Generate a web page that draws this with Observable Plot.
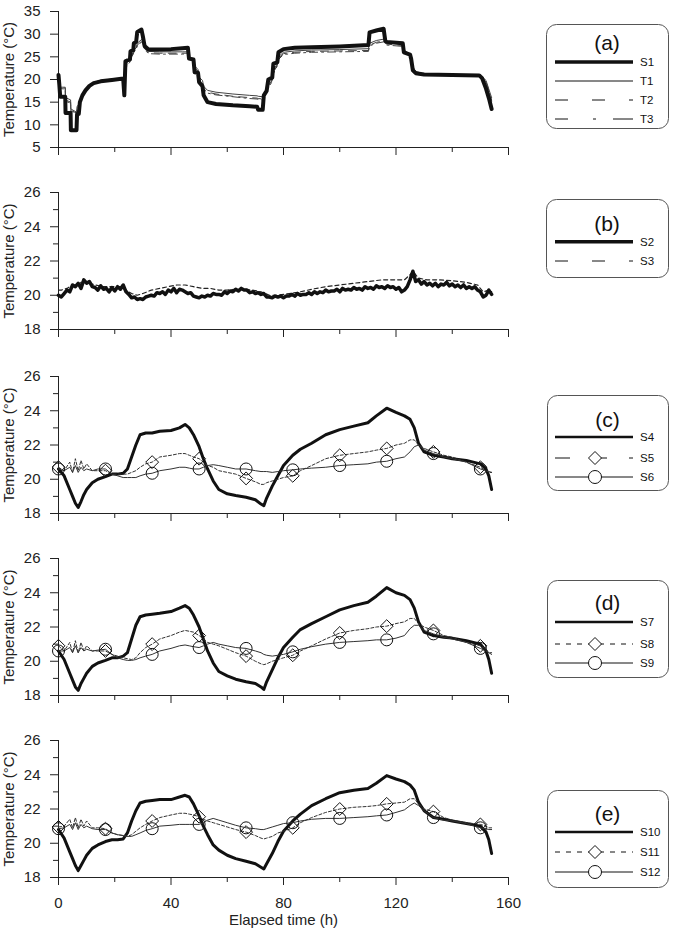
<!DOCTYPE html>
<html>
<head>
<meta charset="utf-8">
<script src="https://cdn.jsdelivr.net/npm/d3@7"></script>
<script src="https://cdn.jsdelivr.net/npm/@observablehq/plot@0.6"></script>
<style>
  body { margin: 0; background: #fff; }
  #fig { position: relative; width: 675px; height: 944px; font-family: "Liberation Sans", Arial, sans-serif; }
  #fig > svg { position: absolute; left: 0; }
</style>
</head>
<body>
<div id="fig"></div>
<script>
// ---------- Panel (a): surface and air temperatures ----------
const hoursA = [
  0, 0.3, 0.6, 2.4, 2.5, 4.3, 4.4, 6.4, 6.6, 7.2,
  7.6, 8.5, 9.6, 11, 12.5, 15, 19, 23, 23.4, 23.8,
  24.4, 25.4, 25.6, 26.6, 26.8, 27.6, 28, 29.5, 30, 30.6,
  32, 36, 40, 44, 46, 46.4, 48, 48.4, 49.6, 50,
  51.2, 51.6, 53, 56, 62, 68, 70.6, 71, 72.6, 73,
  74, 74.6, 76, 76.4, 77.8, 78.2, 80, 84, 90, 100,
  110.2, 110.6, 113, 115.6, 116.2, 116.6, 122.4, 122.8, 125, 125.4,
  126, 127, 130, 140, 149.6, 150.6, 152, 153.2, 154
];
const S1 = [
  21.0, 18.8, 16.2, 16.2, 12.6, 12.6, 8.8, 8.8, 12.4, 12.4,
  15.0, 16.5, 17.6, 18.6, 19.2, 19.6, 19.9, 20.2, 16.5, 24.0,
  24.2, 24.4, 26.2, 26.5, 28.0, 28.3, 30.5, 31.0, 29.5, 27.4,
  26.6, 26.6, 26.7, 26.9, 27.0, 24.6, 24.4, 21.6, 21.5, 19.4,
  18.5, 16.5, 15.0, 14.6, 14.3, 14.1, 14.0, 13.3, 13.3, 16.5,
  17.5, 20.0, 20.4, 23.5, 23.8, 26.0, 26.7, 27.0, 27.1, 27.3,
  27.6, 30.4, 30.8, 31.2, 28.5, 28.3, 28.0, 26.0, 25.5, 24.5,
  22.0, 21.4, 21.1, 21.0, 20.9, 20.3, 18.0, 15.5, 13.5
];
const T1 = [
  20.5, 18.5, 18.3, 18.3, 16.0, 15.5, 13.5, 12.8, 14.0, 14.5,
  15.5, 16.8, 17.8, 18.8, 19.4, 19.8, 20.1, 20.3, 20.0, 22.5,
  23.8, 24.2, 25.0, 26.0, 26.5, 27.0, 28.0, 28.8, 28.6, 27.0,
  26.2, 26.1, 26.1, 26.1, 26.1, 25.0, 24.6, 23.0, 22.2, 20.5,
  19.8, 18.5, 17.6, 17.2, 16.8, 16.5, 16.4, 16.3, 16.2, 16.6,
  17.8, 18.6, 20.0, 22.0, 23.5, 25.0, 26.0, 26.3, 26.5, 26.6,
  26.8, 28.0, 28.6, 28.9, 28.5, 28.0, 27.8, 26.5, 25.6, 24.8,
  22.8, 21.8, 21.2, 21.0, 20.9, 20.6, 19.8, 17.5, 16.0
];
const T2 = [
  20.4, 18.4, 18.2, 18.1, 15.5, 15.0, 13.2, 12.6, 13.5, 14.2,
  15.2, 16.6, 17.7, 18.7, 19.3, 19.7, 20.0, 20.2, 19.5, 22.0,
  23.5, 24.0, 24.8, 25.8, 26.2, 26.8, 27.6, 28.4, 28.2, 26.8,
  25.9, 25.8, 25.8, 25.8, 25.8, 24.8, 24.4, 22.8, 22.0, 20.2,
  19.4, 18.0, 17.2, 16.8, 16.3, 16.0, 15.9, 15.8, 15.7, 16.2,
  17.5, 18.3, 19.8, 21.5, 23.2, 24.6, 25.7, 26.0, 26.2, 26.3,
  26.4, 27.6, 28.2, 28.5, 28.2, 27.8, 27.5, 26.3, 25.4, 24.6,
  22.6, 21.6, 21.1, 21.0, 20.8, 20.5, 19.6, 17.2, 15.5
];
const T3 = [
  20.3, 18.3, 18.0, 17.9, 15.2, 14.8, 13.0, 12.5, 13.3, 14.0,
  15.0, 16.4, 17.5, 18.6, 19.2, 19.6, 19.9, 20.1, 19.3, 21.8,
  23.3, 23.8, 24.6, 25.6, 26.0, 26.6, 27.4, 28.2, 28.0, 26.6,
  25.7, 25.6, 25.6, 25.6, 25.6, 24.6, 24.2, 22.6, 21.8, 20.0,
  19.2, 17.8, 17.0, 16.6, 16.2, 15.8, 15.7, 15.6, 15.5, 16.0,
  17.3, 18.1, 19.6, 21.3, 23.0, 24.4, 25.5, 25.8, 26.0, 26.1,
  26.2, 27.4, 28.0, 28.3, 28.0, 27.6, 27.3, 26.1, 25.3, 24.5,
  22.4, 21.5, 21.0, 20.9, 20.8, 20.4, 19.4, 17.0, 15.2
];

// ---------- Panel (b) ----------
// S2 is logged hourly (0 h … 154 h)
const hoursS2 = d3.range(0, 155);
const S2 = [
  20.0, 19.9, 20.1, 20.3, 20.2, 20.6, 20.5, 20.7, 20.4, 20.9,
  20.7, 20.8, 20.5, 20.45, 20.3, 20.55, 20.35, 20.4, 20.2, 20.45,
  20.25, 20.5, 20.35, 20.6, 20.2, 20.05, 19.85, 19.9, 19.75, 19.8,
  19.75, 19.9, 19.95, 20.0, 19.95, 20.15, 20.1, 20.2, 20.05, 20.3,
  20.2, 20.4, 20.15, 20.35, 20.3, 20.2, 20.1, 20.15, 19.95, 19.9,
  19.85, 19.95, 19.9, 20.0, 19.95, 20.1, 20.05, 20.05, 20.0, 20.2,
  20.1, 20.25, 20.2, 20.35, 20.25, 20.4, 20.3, 20.3, 20.15, 20.2,
  20.1, 20.15, 20.05, 20.1, 19.9, 19.9, 19.85, 19.95, 19.9, 19.95,
  19.85, 19.95, 19.95, 20.05, 19.95, 20.1, 20.0, 20.05, 20.05, 20.15,
  20.05, 20.2, 20.1, 20.2, 20.15, 20.3, 20.2, 20.25, 20.25, 20.35,
  20.2, 20.4, 20.3, 20.35, 20.3, 20.45, 20.35, 20.4, 20.3, 20.5,
  20.4, 20.45, 20.35, 20.55, 20.45, 20.5, 20.4, 20.55, 20.45, 20.5,
  20.35, 20.45, 20.2, 20.3, 20.5, 20.9, 21.4, 20.8, 20.9, 20.65,
  20.8, 20.6, 20.7, 20.55, 20.7, 20.5, 20.65, 20.6, 20.75, 20.55,
  20.65, 20.5, 20.6, 20.45, 20.6, 20.4, 20.5, 20.4, 20.5, 20.3,
  20.2, 19.9, 20.0, 20.3, 20.05
];
const hoursS3 = [
  0, 1, 3, 5, 7, 9, 11, 13, 16, 19,
  22, 24, 26, 28, 30, 33, 36, 39, 42, 45,
  48, 51, 54, 57, 60, 63, 66, 69, 72, 75,
  78, 82, 86, 90, 95, 100, 105, 110, 115, 120,
  123, 125, 126, 128, 131, 135, 140, 145, 149, 151,
  153, 154
];
const S3 = [
  20.3, 20.3, 20.4, 20.6, 20.6, 20.9, 20.7, 20.6, 20.5, 20.5,
  20.5, 20.3, 20.1, 20.0, 20.1, 20.3, 20.4, 20.5, 20.6, 20.6,
  20.5, 20.4, 20.4, 20.3, 20.3, 20.35, 20.35, 20.3, 20.2, 20.0,
  20.0, 20.1, 20.2, 20.35, 20.5, 20.6, 20.7, 20.8, 20.9, 20.9,
  20.9, 21.2, 21.4, 21.0, 20.9, 20.9, 20.85, 20.75, 20.6, 20.2,
  20.3, 20.2
];

// ---------- Panels (c), (d), (e): shared sampling hours ----------
const hoursCDE = [
  0, 2, 4, 5, 6, 7, 8, 9, 10, 12,
  14, 16.7, 19, 21, 23, 24.5, 26, 27.5, 29, 31,
  33.3, 36, 40, 43, 45, 46.5, 48, 50, 51.5, 53,
  55, 57, 60, 63, 66.7, 70, 72, 73, 74, 76,
  78, 80, 83.3, 86, 90, 95, 100, 105, 110, 113,
  116.7, 120, 123, 125, 126.5, 128, 130, 133.3, 137, 140,
  145, 150, 152, 153, 154
];
// hours at which symbols are drawn on the marked series
const markerHours = [0, 16.7, 33.3, 50, 66.7, 83.3, 100, 116.7, 133.3, 150];

const S4 = [
  20.6, 20.2, 19.4, 19.0, 18.6, 18.35, 18.7, 19.1, 19.4, 19.8,
  20.0, 20.15, 20.3, 20.3, 20.35, 20.6, 21.3, 22.0, 22.6, 22.7,
  22.7, 22.8, 22.85, 23.0, 23.2, 23.0, 22.6, 21.9, 21.2, 20.6,
  19.9, 19.4, 19.15, 19.05, 18.95, 18.8, 18.55, 18.45, 18.9, 19.6,
  20.2, 20.8, 21.4, 21.75, 22.1, 22.6, 22.9, 23.1, 23.3, 23.7,
  24.15, 23.9, 23.7, 23.5, 23.0, 22.1, 21.6, 21.4, 21.3, 21.2,
  21.1, 20.9, 20.6, 20.2, 19.4
];
const S5 = [
  20.7, 20.5, 21.0, 20.4, 21.2, 20.5, 21.1, 20.6, 20.9, 20.5,
  20.5, 20.5, 20.3, 20.3, 20.3, 20.3, 20.4, 20.5, 20.7, 20.9,
  21.0, 21.3, 21.4, 21.5, 21.5, 21.4, 21.3, 21.2, 21.0, 20.8,
  20.7, 20.5, 20.4, 20.3, 20.05, 19.85, 19.7, 19.7, 19.8, 19.9,
  20.0, 20.1, 20.2, 20.5, 20.8, 21.2, 21.4, 21.5, 21.6, 21.7,
  21.8, 22.0, 22.1, 22.3, 22.3, 22.0, 21.8, 21.6, 21.4, 21.3,
  21.0, 20.7, 20.5, 20.4, 20.4
];
const S6 = [
  20.6, 20.5, 20.7, 20.4, 20.8, 20.4, 20.7, 20.5, 20.6, 20.5,
  20.6, 20.6, 20.3, 20.2, 20.1, 20.1, 20.1, 20.1, 20.2, 20.3,
  20.35, 20.5, 20.6, 20.7, 20.7, 20.65, 20.6, 20.6, 20.7, 20.8,
  20.85, 20.8, 20.7, 20.6, 20.6, 20.5, 20.45, 20.45, 20.45, 20.4,
  20.45, 20.5, 20.55, 20.6, 20.65, 20.7, 20.8, 20.85, 20.9, 21.0,
  21.05, 21.2, 21.3, 21.6, 21.9, 22.0, 21.7, 21.5, 21.3, 21.2,
  21.0, 20.6, 20.5, 20.45, 20.4
];
const S7 = [
  20.6, 20.1, 19.3, 18.9, 18.5, 18.3, 18.7, 19.0, 19.3, 19.7,
  19.9, 20.05, 20.2, 20.2, 20.3, 20.5, 21.3, 22.1, 22.6, 22.7,
  22.75, 22.8, 22.9, 23.1, 23.25, 23.1, 22.7, 22.0, 21.3, 20.6,
  19.9, 19.4, 19.15, 18.95, 18.8, 18.7, 18.5, 18.35, 18.8, 19.5,
  20.2, 20.8, 21.4, 21.85, 22.2, 22.6, 23.0, 23.25, 23.45, 23.8,
  24.3, 24.0, 23.85, 23.6, 23.1, 22.3, 21.7, 21.5, 21.4, 21.35,
  21.2, 21.0, 20.6, 20.1, 19.3
];
const S8 = [
  20.9, 20.6, 21.1, 20.5, 21.2, 20.5, 21.1, 20.6, 20.9, 20.6,
  20.6, 20.6, 20.4, 20.3, 20.2, 20.15, 20.1, 20.2, 20.5, 20.8,
  21.0, 21.3, 21.5, 21.7, 21.8, 21.75, 21.7, 21.5, 21.3, 21.1,
  21.0, 20.9, 20.7, 20.5, 20.3, 20.0, 19.85, 19.8, 19.85, 20.0,
  20.1, 20.2, 20.35, 20.6, 20.9, 21.3, 21.65, 21.8, 21.9, 22.0,
  22.05, 22.2, 22.3, 22.5, 22.5, 22.2, 22.0, 21.8, 21.5, 21.4,
  21.1, 20.9, 20.7, 20.5, 20.5
];
const S9 = [
  20.6, 20.6, 20.8, 20.5, 20.9, 20.5, 20.8, 20.6, 20.7, 20.6,
  20.65, 20.7, 20.4, 20.2, 20.1, 20.05, 20.05, 20.1, 20.2, 20.3,
  20.4, 20.6, 20.75, 20.9, 20.95, 20.9, 20.85, 20.8, 20.9, 21.0,
  21.1, 21.0, 20.9, 20.8, 20.75, 20.6, 20.5, 20.4, 20.35, 20.3,
  20.35, 20.4, 20.55, 20.7, 20.85, 21.0, 21.1, 21.15, 21.2, 21.25,
  21.25, 21.35, 21.5, 21.9, 22.1, 22.1, 21.8, 21.6, 21.4, 21.3,
  21.1, 20.75, 20.6, 20.5, 20.4
];
const S10 = [
  20.8, 20.3, 19.5, 19.1, 18.7, 18.4, 18.7, 19.0, 19.3, 19.7,
  19.9, 20.1, 20.2, 20.2, 20.25, 20.6, 21.3, 21.9, 22.35, 22.45,
  22.5, 22.55, 22.55, 22.7, 22.8, 22.7, 22.3, 21.6, 21.0, 20.5,
  19.9, 19.6, 19.3, 19.1, 18.95, 18.8, 18.6, 18.5, 18.8, 19.4,
  20.1, 20.7, 21.3, 21.7, 22.2, 22.6, 22.95, 23.1, 23.2, 23.5,
  23.95, 23.75, 23.6, 23.4, 23.1, 22.4, 21.9, 21.5, 21.4, 21.3,
  21.15, 21.0, 20.65, 20.2, 19.4
];
const S11 = [
  20.95, 21.0, 21.4, 20.9, 21.5, 20.9, 21.4, 21.0, 21.3, 20.9,
  20.9, 20.85, 20.6, 20.5, 20.45, 20.4, 20.5, 20.7, 20.9, 21.1,
  21.3, 21.5, 21.65, 21.75, 21.75, 21.7, 21.65, 21.55, 21.4, 21.3,
  21.2, 21.1, 20.95, 20.8, 20.65, 20.45, 20.3, 20.25, 20.3, 20.4,
  20.6, 20.7, 20.9, 21.2, 21.5, 21.8, 22.0, 22.1, 22.15, 22.2,
  22.3, 22.35, 22.4, 22.6, 22.6, 22.3, 22.0, 21.85, 21.5, 21.35,
  21.2, 21.1, 21.0, 20.9, 20.9
];
const S12 = [
  20.85, 20.9, 21.1, 20.8, 21.2, 20.8, 21.1, 20.9, 21.0, 20.85,
  20.8, 20.8, 20.6, 20.5, 20.45, 20.4, 20.4, 20.5, 20.6, 20.75,
  20.85, 21.0, 21.05, 21.1, 21.1, 21.1, 21.1, 21.1, 21.2, 21.35,
  21.45, 21.35, 21.2, 21.05, 20.9, 20.85, 20.8, 20.8, 20.85, 20.95,
  21.05, 21.15, 21.2, 21.3, 21.4, 21.45, 21.45, 21.5, 21.55, 21.6,
  21.65, 21.8, 21.95, 22.2, 22.35, 22.2, 21.9, 21.5, 21.35, 21.3,
  21.15, 20.9, 20.85, 20.8, 20.8
];

// ---------- axis ticks and labels ----------
const xMajor = [0, 40, 80, 120, 160];
const xMinor = [20, 60, 100, 140];
const yMajorA = [5, 10, 15, 20, 25, 30, 35];
const yMajor = [18, 20, 22, 24, 26];
const yMinor = [19, 21, 23, 25];
const yLabel = "Temperature (°C)";
const xLabel = "Elapsed time (h)";

// ---------- helpers ----------
const rows = (hours, values) => hours.map((h, i) => ({h, v: values[i]})).filter(d => d.v != null);
const font = `"Liberation Sans", Arial, sans-serif`;
const fig = document.getElementById("fig");

function panel({top, rangeH, domain, major, minor, series, bottom}) {
  const mT = 10, mB = bottom ? 60 : 12;
  const marks = [
    Plot.axisY(major, {tickSize: 8, tickPadding: 10, label: null, fontSize: 15}),
    Plot.axisX(xMajor, {tickSize: 8, tickPadding: 12, label: null, fontSize: 15,
      tickFormat: bottom ? (d => String(d)) : (() => "")}),
    Plot.axisX(xMinor, {tickSize: 5, label: null, tickFormat: () => ""}),
    Plot.ruleX([0], {stroke: "#222"}),
    Plot.ruleY([domain[0]], {stroke: "#222"}),
    Plot.text([yLabel], {frameAnchor: "left", dx: -49, rotate: -90, textAnchor: "middle",
      lineAnchor: "middle", fontSize: 15, fill: "#222"})
  ];
  if (minor) marks.push(Plot.axisY(minor, {tickSize: 5, label: null, tickFormat: () => ""}));
  for (const s of series) {
    const data = rows(s.hours, s.values);
    marks.push(Plot.line(data, {x: "h", y: "v", stroke: s.color || "#111",
      strokeWidth: s.width, strokeDasharray: s.dash, strokeLinejoin: "round"}));
    if (s.symbol) {
      marks.push(Plot.dot(data.filter(d => markerHours.includes(d.h)), {
        x: "h", y: "v", symbol: s.symbol, r: s.symbol === "circle" ? 6 : 5.8,
        stroke: "#111", strokeWidth: 1, fill: "none"}));
    }
  }
  if (bottom) marks.push(Plot.text([xLabel], {frameAnchor: "bottom", dy: 37, textAnchor: "middle",
    lineAnchor: "top", fontSize: 15, fill: "#222"}));
  const svg = Plot.plot({
    width: 520, height: mT + rangeH + mB,
    marginLeft: 58, marginRight: 12, marginTop: mT, marginBottom: mB,
    style: {fontFamily: font, fontSize: "15px", color: "#222", background: "transparent", overflow: "visible"},
    x: {domain: [0, 160]},
    y: {domain},
    marks
  });
  svg.style.top = (top - mT) + "px";
  fig.appendChild(svg);
}

panel({top: 11, rangeH: 136, domain: [5, 35], major: yMajorA, series: [
  {hours: hoursA, values: T3, width: 1, dash: "8,4,2,4", color: "#444"},
  {hours: hoursA, values: T2, width: 1, dash: "8,6", color: "#444"},
  {hours: hoursA, values: T1, width: 1, color: "#444"},
  {hours: hoursA, values: S1, width: 4}
]});
panel({top: 192, rangeH: 137, domain: [18, 26], major: yMajor, minor: yMinor, series: [
  {hours: hoursS3, values: S3, width: 1.2, dash: "4,3", color: "#222"},
  {hours: hoursS2, values: S2, width: 3.5}
]});
panel({top: 376, rangeH: 137, domain: [18, 26], major: yMajor, minor: yMinor, series: [
  {hours: hoursCDE, values: S4, width: 3},
  {hours: hoursCDE, values: S5, width: 1, dash: "3,2", color: "#333", symbol: "diamond2"},
  {hours: hoursCDE, values: S6, width: 1, color: "#333", symbol: "circle"}
]});
panel({top: 558, rangeH: 137, domain: [18, 26], major: yMajor, minor: yMinor, series: [
  {hours: hoursCDE, values: S7, width: 3},
  {hours: hoursCDE, values: S8, width: 1, dash: "3,2", color: "#333", symbol: "diamond2"},
  {hours: hoursCDE, values: S9, width: 1, color: "#333", symbol: "circle"}
]});
panel({top: 740, rangeH: 137, domain: [18, 26], major: yMajor, minor: yMinor, bottom: true, series: [
  {hours: hoursCDE, values: S10, width: 3},
  {hours: hoursCDE, values: S11, width: 1, dash: "3,2", color: "#333", symbol: "diamond2"},
  {hours: hoursCDE, values: S12, width: 1, color: "#333", symbol: "circle"}
]});

// ---------- legend boxes ----------
const legendTitles = ["(a)", "(b)", "(c)", "(d)", "(e)"];
const legendNames = [["S1", "T1", "T2", "T3"], ["S2", "S3"], ["S4", "S5", "S6"], ["S7", "S8", "S9"], ["S10", "S11", "S12"]];
const legendLayout = [
  {box: [546, 24, 122, 104], title: 42.5, rows: [62, 81, 100, 119],
   styles: [{w: 3.5}, {w: 1}, {w: 1, dash: "13,24"}, {w: 1, dash: "13,25,3,17,20"}]},
  {box: [546, 199, 122, 78], title: 223, rows: [241.7, 261],
   styles: [{w: 3.5}, {w: 1, dash: "13,24"}]},
  {box: [547, 395, 121, 95], title: 419, rows: [437, 458, 477],
   styles: [{w: 2.5}, {w: 1, dash: "15,22", sym: "diamond"}, {w: 1, sym: "circle"}]},
  {box: [547, 580, 121, 97], title: 602, rows: [622, 644, 663],
   styles: [{w: 2.5}, {w: 1, dash: "5,6", sym: "diamond"}, {w: 1, sym: "circle"}]},
  {box: [547, 790, 121, 97], title: 813, rows: [832, 852, 872],
   styles: [{w: 2.5}, {w: 1, dash: "5,6", sym: "diamond"}, {w: 1, sym: "circle"}]}
];

const leg = d3.create("svg").attr("width", 675).attr("height", 944)
  .style("top", "0px").style("font-family", font).style("pointer-events", "none");
legendLayout.forEach((L, k) => {
  const [bx, by, bw, bh] = L.box;
  leg.append("rect").attr("x", bx + 0.5).attr("y", by + 0.5).attr("width", bw).attr("height", bh)
    .attr("rx", 10).attr("fill", "#fff").attr("stroke", "#555").attr("stroke-width", 1);
  leg.append("text").attr("x", bx + bw / 2).attr("y", L.title).attr("text-anchor", "middle")
    .attr("dominant-baseline", "central").attr("font-size", 21).attr("fill", "#111").text(legendTitles[k]);
  L.rows.forEach((y, i) => {
    const st = L.styles[i];
    leg.append("line").attr("x1", 555).attr("x2", 633).attr("y1", y).attr("y2", y)
      .attr("stroke", "#111").attr("stroke-width", st.w).attr("stroke-dasharray", st.dash || null);
    if (st.sym === "diamond") {
      leg.append("path").attr("d", `M595,${y - 6.5}L601.5,${y}L595,${y + 6.5}L588.5,${y}Z`)
        .attr("fill", "#fff").attr("stroke", "#111").attr("stroke-width", 1);
    } else if (st.sym === "circle") {
      leg.append("circle").attr("cx", 595).attr("cy", y).attr("r", 6.5)
        .attr("fill", "#fff").attr("stroke", "#111").attr("stroke-width", 1);
    }
    leg.append("text").attr("x", 640).attr("y", y).attr("dominant-baseline", "central")
      .attr("font-size", 11.5).attr("fill", "#111").text(legendNames[k][i]);
  });
});
fig.appendChild(leg.node());
</script>
</body>
</html>
